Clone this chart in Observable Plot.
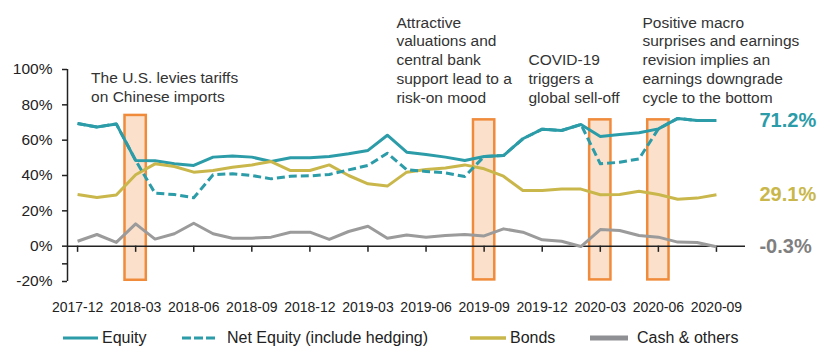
<!DOCTYPE html>
<html><head><meta charset="utf-8">
<script src="https://cdn.jsdelivr.net/npm/d3@7"></script>
<script src="https://cdn.jsdelivr.net/npm/@observablehq/plot@0.6"></script>
<style>
body{margin:0;background:#fff;font-family:"Liberation Sans",Arial,sans-serif;}
#wrap{width:840px;height:364px;position:relative;overflow:hidden;background:#fff}
#legend{position:absolute;top:326px;left:0;width:840px;height:24px;font-size:16px;color:#222}
.item{position:absolute;top:0;display:flex;align-items:center;height:24px;white-space:nowrap}
.item svg{display:block}
</style></head><body><div id="wrap"><div id="chart"></div><div id="legend"></div></div>
<script>
const months = ["2017-12","2018-01","2018-02","2018-03","2018-04","2018-05","2018-06","2018-07","2018-08","2018-09","2018-10","2018-11","2018-12",
  "2019-01","2019-02","2019-03","2019-04","2019-05","2019-06","2019-07","2019-08","2019-09","2019-10","2019-11","2019-12",
  "2020-01","2020-02","2020-03","2020-04","2020-05","2020-06","2020-07","2020-08","2020-09"];
const equity = [69.4,67.4,69.2,48.5,48.3,46.6,45.7,50.4,51.1,50.4,47.9,50.0,50.0,
  50.8,52.3,54.2,62.8,53.2,51.9,50.4,48.5,50.8,51.3,60.8,66.2,
  65.5,68.9,62.1,63.2,64.2,66.4,72.3,71.1,71.2];
const netEquity = [69.4,67.4,69.2,48.5,30.0,29.2,27.4,40.4,41.0,40.0,38.1,39.6,39.8,
  40.6,43.2,45.7,52.6,43.3,42.3,41.5,39.4,50.8,51.3,60.8,66.2,
  65.5,68.9,46.6,47.5,49.4,66.4,72.3,71.1,71.2];
const bonds = [29.2,27.5,29.0,40.4,46.6,45.1,41.9,42.8,44.7,46.0,47.9,42.8,42.8,
  46.0,40.0,35.3,34.0,41.9,43.4,44.3,46.0,43.8,39.6,31.5,31.5,
  32.3,32.3,29.1,29.2,31.1,29.2,26.6,27.2,29.1];
const cash = [2.8,6.6,2.1,12.6,4.0,7.0,13.0,7.0,4.5,4.5,5.1,7.9,7.9,
  3.8,8.3,11.3,4.5,6.3,5.1,6.0,6.6,5.8,9.8,7.9,3.6,
  2.8,-0.2,9.4,8.9,6.0,5.1,2.3,2.1,-0.3];
const tickMonths = ["2017-12","2018-03","2018-06","2018-09","2018-12","2019-03","2019-06","2019-09","2019-12","2020-03","2020-06","2020-09"];
const yTicks = [100,80,60,40,20,0,-20];
const events = [
  {month:"2018-03", top:74, bottom:-19.3},
  {month:"2019-09", top:71.5, bottom:-19.1},
  {month:"2020-03", top:71.5, bottom:-19.1},
  {month:"2020-06", top:71.5, bottom:-19.1}
];
const annotations = [
  {at:0.70, level:81.8, text:"The U.S. levies tariffs\non Chinese imports"},
  {at:16.47, level:81.3, text:"Attractive\nvaluations and\ncentral bank\nsupport lead to a\nrisk-on mood"},
  {at:23.29, level:81.3, text:"COVID-19\ntriggers a\nglobal sell-off"},
  {at:29.18, level:81.3, text:"Positive macro\nsurprises and earnings\nrevision implies an\nearnings downgrade\ncycle to the bottom"}
];

const teal = "#2B9CA8", gold = "#C9B74B", grey = "#9B9B9B";
const series = [
  {name:"Equity", values:equity, color:teal, dash:null, width:3},
  {name:"Net Equity (include hedging)", values:netEquity, color:teal, dash:"8,4", width:3},
  {name:"Bonds", values:bonds, color:gold, dash:null, width:3},
  {name:"Cash & others", values:cash, color:grey, dash:null, width:3}
];
const idx = m => months.indexOf(m);
const rows = s => s.values.map((v,i)=>({i, v}));
const xDomain = [-0.52, 34.5];
const font = "Liberation Sans, Arial, sans-serif";

const endLabels = [
  {name:"Equity", values:equity, color:teal},
  {name:"Bonds", values:bonds, color:gold},
  {name:"Cash & others", values:cash, color:"#7F7F7F"}
].map(s => ({i: s.values.length-1, v: s.values[s.values.length-1], color: s.color}));

const lineMarks = [series[0], series[2], series[3], series[1]].map(s =>
  Plot.line(rows(s), {x:"i", y:"v", stroke:s.color, strokeWidth:s.width, strokeDasharray:s.dash, strokeLinejoin:"round", strokeLinecap:"butt"}));

const chart = Plot.plot({
  width:840, height:322,
  marginLeft:67, marginRight:95, marginTop:69, marginBottom:41,
  style:{fontFamily:font, background:"#fff", overflow:"visible", color:"#222"},
  x:{type:"linear", domain:xDomain},
  y:{domain:[-20,100]},
  marks:[
    Plot.rect(events, {x1:d=>idx(d.month)-0.55, x2:d=>idx(d.month)+0.55, y1:"bottom", y2:"top", fill:"#FBE1CB", stroke:"#EF8B3B", strokeWidth:2.5}),
    Plot.ruleY([0], {stroke:"#222", strokeWidth:1.5}),
    Plot.ruleX(tickMonths, {x:d=>idx(d), y1:0, y2:-3.5, stroke:"#222", strokeWidth:1.5}),
    Plot.axisX(tickMonths.map(idx), {tickFormat:i=>months[i], tickSize:0, tickPadding:21, fontSize:14, anchor:"bottom", fill:"#222"}),
    Plot.axisY(yTicks, {tickFormat:d=>d+"%", tickSize:5, tickPadding:10, fontSize:15.5, stroke:"#222", strokeWidth:1.5, fill:"#222"}),
    Plot.axisY([-10], {tickFormat:()=>"", tickSize:5, stroke:"#222", strokeWidth:1.5}),
    Plot.ruleX([xDomain[0]], {y1:-20, y2:100, stroke:"#222", strokeWidth:1.5}),
    ...lineMarks,
    Plot.text(endLabels, {x:"i", y:"v", text:d=>d.v.toFixed(1)+"%", fill:d=>d.color, dx:43, textAnchor:"start", fontSize:20, fontWeight:"bold"}),
    Plot.text(annotations, {x:"at", y:"level", text:"text", textAnchor:"start", lineAnchor:"bottom", lineHeight:1.21, fontSize:15.5, fill:"#333"})
  ]
});
document.getElementById("chart").appendChild(chart);

// legend
const legendPos = [63, 182, 470, 590];
const swW = [35, 33, 36, 38];
const gaps = [4, 12, 4, 9];
const swH = [3, 3, 3.5, 5];
const legend = document.getElementById("legend");
series.forEach((s,k) => {
  const item = document.createElement("div");
  item.className = "item";
  item.style.left = legendPos[k]+"px";
  const ns = "http://www.w3.org/2000/svg";
  const svg = document.createElementNS(ns,"svg");
  svg.setAttribute("width", swW[k]); svg.setAttribute("height", 10);
  svg.style.marginRight = gaps[k]+"px";
  const ln = document.createElementNS(ns,"line");
  ln.setAttribute("x1",0); ln.setAttribute("x2",swW[k]); ln.setAttribute("y1",5); ln.setAttribute("y2",5);
  ln.setAttribute("stroke", k===3 ? "#8F9094" : s.color);
  ln.setAttribute("stroke-width", swH[k]);
  if (s.dash) ln.setAttribute("stroke-dasharray", "9,3");
  svg.appendChild(ln);
  item.appendChild(svg);
  const t = document.createElement("span");
  t.textContent = s.name;
  item.appendChild(t);
  legend.appendChild(item);
});
</script></body></html>
